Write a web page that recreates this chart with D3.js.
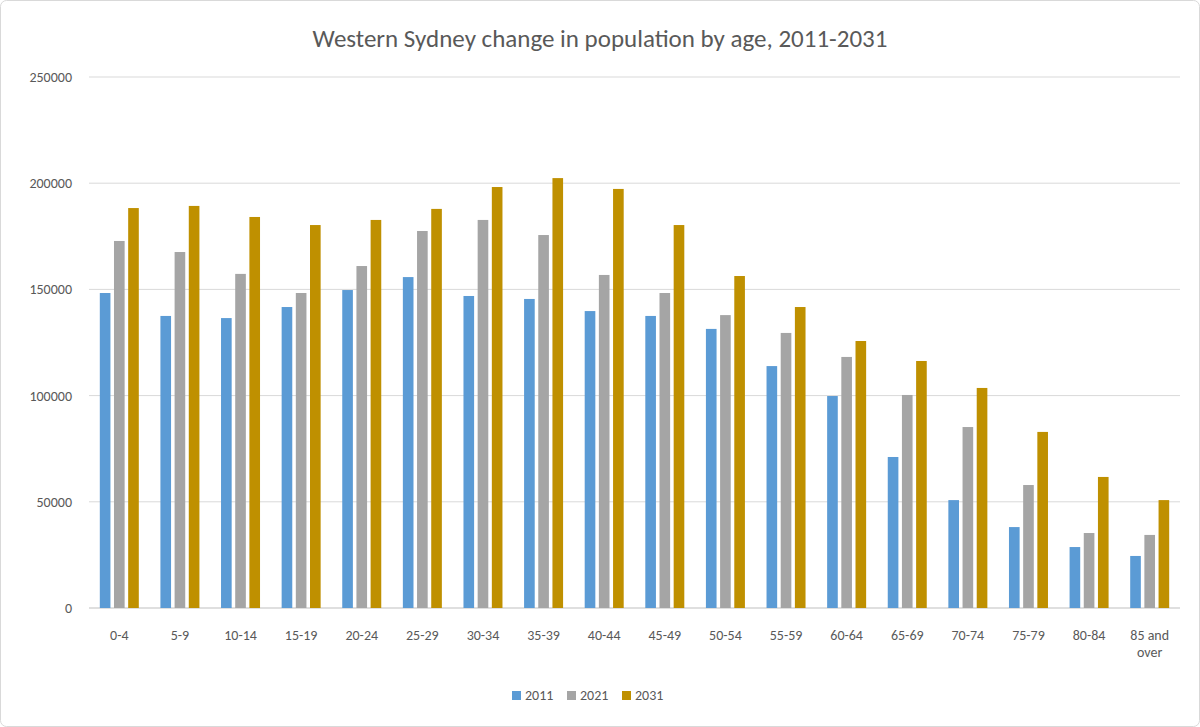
<!DOCTYPE html><html><head><meta charset="utf-8"><script src="https://cdn.jsdelivr.net/npm/d3@7"></script>
<style>body{margin:0;background:#fff;font-family:Calibri,Carlito,"Liberation Sans",sans-serif}</style></head><body><svg id="c" width="1200" height="727"></svg><script>
const categories=["0-4","5-9","10-14","15-19","20-24","25-29","30-34","35-39","40-44","45-49","50-54","55-59","60-64","65-69","70-74","75-79","80-84","85 and over"];
const seriesNames=["2011","2021","2031"];
const v2011=[148300,137500,136500,141700,149700,155800,146900,145500,139800,137500,131400,113900,99800,71100,50800,38100,28700,24500];
const v2021=[172800,167600,157300,148300,161000,177500,182700,175600,156800,148300,137900,129500,118200,100300,85200,57900,35300,34400];
const v2031=[188300,189300,184100,180300,182700,187900,198200,202400,197300,180300,156300,141700,125700,116300,103600,82900,61700,50800];
const yTicks=[0,50000,100000,150000,200000,250000];
const colors=["#5B9BD5","#A5A5A5","#BF9000"];
const series=[v2011,v2021,v2031];
const svg=d3.select("#c");
svg.append("rect").attr("x",0.5).attr("y",0.5).attr("width",1199).attr("height",726).attr("rx",6).attr("fill","#fff").attr("stroke","#d9d9d9");
const x=d3.scaleBand().domain(categories).range([89,1180]);
const y=d3.scaleLinear().domain([0,250000]).range([608,77]);
svg.append("g").selectAll("line").data(yTicks).join("line").attr("x1",89).attr("x2",1180).attr("y1",d=>y(d)).attr("y2",d=>y(d)).attr("stroke",d=>d===0?"#bfbfbf":"#d9d9d9");
svg.append("g").selectAll("text").data(yTicks).join("text").attr("x",72).attr("y",d=>y(d)+5).attr("text-anchor","end").attr("font-size",14).attr("fill","#595959").text(d=>d);
const sub=d3.scaleBand().domain([0,1,2]).range([0,39]).paddingInner(0.25);
series.forEach((s,i)=>{svg.append("g").selectAll("rect").data(s).join("rect")
 .attr("x",(d,j)=>x(categories[j])+x.bandwidth()/2-19.5+sub(i)).attr("width",sub.bandwidth())
 .attr("y",d=>y(d)).attr("height",d=>y(0)-y(d)).attr("fill",colors[i]);});
const lab=svg.append("g");
categories.forEach(c=>{const t=lab.append("text").attr("x",x(c)+x.bandwidth()/2).attr("y",640).attr("text-anchor","middle").attr("font-size",14).attr("fill","#595959");
 if(c==="85 and over"){t.append("tspan").attr("x",x(c)+x.bandwidth()/2).text("85 and");t.append("tspan").attr("x",x(c)+x.bandwidth()/2).attr("dy",17).text("over");}else t.text(c);});
svg.append("text").attr("x",600).attr("y",47).attr("text-anchor","middle").attr("font-size",25).attr("fill","#595959").text("Western Sydney change in population by age, 2011-2031");
const lg=svg.append("g");const lx=[512,567,622];
seriesNames.forEach((n,i)=>{lg.append("rect").attr("x",lx[i]).attr("y",691).attr("width",9).attr("height",9).attr("fill",colors[i]);
 lg.append("text").attr("x",lx[i]+13).attr("y",700).attr("font-size",14).attr("fill","#595959").text(n);});
</script></body></html>
